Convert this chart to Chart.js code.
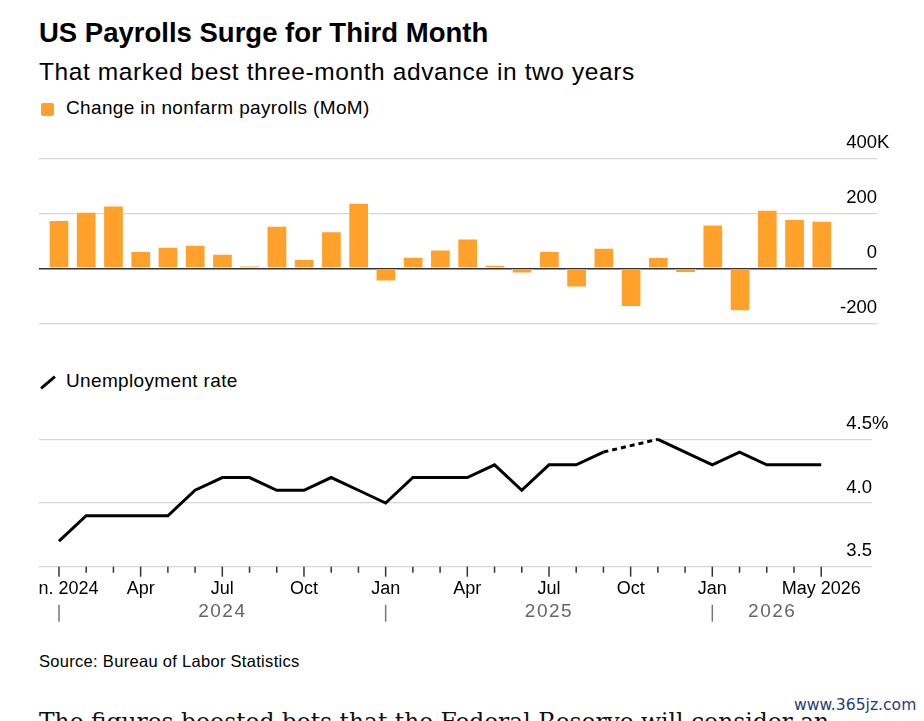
<!DOCTYPE html>
<html>
<head>
<meta charset="utf-8">
<script src="https://cdn.jsdelivr.net/npm/chart.js@4.4.1/dist/chart.umd.min.js"></script>
<style>
html,body{margin:0;padding:0;background:#fff;}
body{width:924px;height:721px;overflow:hidden;position:relative;font-family:"Liberation Sans",Arial,sans-serif;color:#000;}
.abs{position:absolute;white-space:nowrap;line-height:1;}
#title{left:39px;top:19.4px;font-size:27.5px;font-weight:700;}
#subtitle{left:39px;top:59.5px;font-size:24.5px;letter-spacing:0.6px;}
#sq{position:absolute;left:41px;top:103px;width:13px;height:13px;border-radius:2px;background:#ffa12b;}
#leg1{left:66px;top:98.2px;font-size:19px;letter-spacing:0.35px;}
#slash{position:absolute;left:39px;top:381px;width:18px;height:3px;background:#000;transform:rotate(-40deg);}
#leg2{left:66px;top:370.5px;font-size:19px;letter-spacing:0.35px;}
#c1{position:absolute;left:39px;top:125px;}
#c2{position:absolute;left:39px;top:400px;}
#source{left:39px;top:652.8px;font-size:16.5px;letter-spacing:0.3px;}
#article{left:39px;top:711px;font-size:23.4px;font-family:"DejaVu Serif","Liberation Serif",serif;color:#111;}
#wm{left:794px;top:697.5px;font-size:15.6px;font-family:"DejaVu Sans",sans-serif;color:#1f3d7a;}
</style>
</head>
<body>
<div class="abs" id="title">US Payrolls Surge for Third Month</div>
<div class="abs" id="subtitle">That marked best three-month advance in two years</div>
<div id="sq"></div>
<div class="abs" id="leg1">Change in nonfarm payrolls (MoM)</div>
<canvas id="c1" width="885" height="210"></canvas>
<div id="slash"></div>
<div class="abs" id="leg2">Unemployment rate</div>
<canvas id="c2" width="885" height="240"></canvas>
<div class="abs" id="source">Source: Bureau of Labor Statistics</div>
<div class="abs" id="article">The figures boosted bets that the Federal Reserve will consider an</div>
<div class="abs" id="wm">www.365jz.com</div>
<script>
// ---- data ----
const months = ['Jan 2024','Feb 2024','Mar 2024','Apr 2024','May 2024','Jun 2024','Jul 2024','Aug 2024','Sep 2024','Oct 2024','Nov 2024','Dec 2024',
                'Jan 2025','Feb 2025','Mar 2025','Apr 2025','May 2025','Jun 2025','Jul 2025','Aug 2025','Sep 2025','Oct 2025','Nov 2025','Dec 2025',
                'Jan 2026','Feb 2026','Mar 2026','Apr 2026','May 2026'];
const tickLabels = ['Jan. 2024','','','Apr','','','Jul','','','Oct','','',
                    'Jan','','','Apr','','','Jul','','','Oct','','',
                    'Jan','','','','May 2026'];
const payrolls = [176, 206, 228, 63, 78, 86, 53, 10, 155, 34, 135, 238,
                  -48, 42, 68, 108, 13, -19, 63, -70, 75, -141, 41, -17,
                  159, -156, 213, 179, 173];
const unemployment = [3.7, 3.9, 3.9, 3.9, 3.9, 4.1, 4.2, 4.2, 4.1, 4.1, 4.2, 4.1,
                      4.0, 4.2, 4.2, 4.2, 4.3, 4.1, 4.3, 4.3, 4.4, null, 4.5, 4.4,
                      4.3, 4.4, 4.3, 4.3, 4.3];
const payrollTicks = [-200, 0, 200, 400];
const rateTicks = [3.5, 4.0, 4.5];
const yearLabels = ['2024', '2025', '2026'];

// ---- setup ----
const FONT = '"Liberation Sans", Arial, sans-serif';
Chart.defaults.font.family = FONT;
Chart.defaults.color = '#000';

function makeRightLabels(ticks, decimals, suffix, lift) {
  return {
    id: 'rightLabels',
    afterDraw(chart) {
      const ys = chart.scales.y, ctx = chart.ctx, x = chart.chartArea.right;
      ctx.save();
      ctx.font = '18.5px ' + FONT;
      ctx.fillStyle = '#000';
      ctx.textBaseline = 'middle';
      ticks.forEach((v, i) => {
        const y = ys.getPixelForValue(v) - lift;
        ctx.textAlign = 'right';
        ctx.fillText(decimals ? v.toFixed(decimals) : String(v), x, y);
        if (i === ticks.length - 1 && suffix) {
          ctx.textAlign = 'left';
          ctx.fillText(suffix, x, y);
        }
      });
      ctx.restore();
    }
  };
}

function makeTimeAxis(yearCenters) {
  return {
    id: 'timeAxis',
    afterDraw(chart) {
      const xs = chart.scales.x, ctx = chart.ctx, b = chart.chartArea.bottom;
      ctx.save();
      ctx.strokeStyle = '#333';
      ctx.lineWidth = 1.5;
      months.forEach((m, i) => {
        const x = xs.getPixelForValue(i);
        const len = tickLabels[i] ? 10 : 6;
        ctx.beginPath(); ctx.moveTo(x, b); ctx.lineTo(x, b + len); ctx.stroke();
      });
      ctx.strokeStyle = '#777';
      months.forEach((m, i) => {
        if (m.startsWith('Jan')) {
          const x = xs.getPixelForValue(i);
          ctx.beginPath(); ctx.moveTo(x, b + 38); ctx.lineTo(x, b + 55); ctx.stroke();
        }
      });
      ctx.fillStyle = '#666';
      ctx.font = '19px ' + FONT;
      ctx.letterSpacing = '1.5px';
      ctx.textAlign = 'center';
      ctx.textBaseline = 'middle';
      yearLabels.forEach((yl, k) => ctx.fillText(yl, xs.getPixelForValue(yearCenters[k]), b + 45));
      ctx.restore();
    }
  };
}

const X_MIN = -0.734;

// ---- payrolls bar chart ----
new Chart(document.getElementById('c1'), {
  type: 'bar',
  data: {
    datasets: [{
      data: payrolls.map((v, i) => ({ x: i, y: v })),
      backgroundColor: '#ffa12b',
      borderColor: 'rgba(255,255,255,0.5)',
      borderWidth: 1,
      barPercentage: 0.76,
      categoryPercentage: 1
    }]
  },
  options: {
    responsive: false,
    animation: false,
    events: [],
    layout: { padding: { left: 0, right: 47, top: 33.3, bottom: 11.7 } },
    plugins: { legend: { display: false }, tooltip: { enabled: false } },
    scales: {
      x: { type: 'linear', display: false, min: X_MIN, max: 30.027, offset: false },
      y: {
        min: -200, max: 400,
        afterBuildTicks: s => { s.ticks = payrollTicks.map(v => ({ value: v })); },
        afterFit: s => { s.width = 0; },
        ticks: { display: false },
        border: { display: false },
        grid: {
          drawTicks: false,
          color: c => c.tick && c.tick.value === 0 ? '#333' : '#d6d6d6',
          lineWidth: c => c.tick && c.tick.value === 0 ? 1.6 : 1.3
        }
      }
    }
  },
  plugins: [makeRightLabels(payrollTicks, 0, 'K', 15.5)]
});

// ---- unemployment line chart ----
new Chart(document.getElementById('c2'), {
  type: 'line',
  data: {
    datasets: [{
      data: unemployment.map((v, i) => ({ x: i, y: v })),
      borderColor: '#000',
      borderWidth: 3,
      pointRadius: 0,
      tension: 0,
      spanGaps: true,
      clip: false,
      borderJoinStyle: 'miter',
      segment: {
        borderDash: c => (c.p0.skip || c.p1.skip) ? [5, 4] : undefined
      }
    }]
  },
  options: {
    responsive: false,
    animation: false,
    events: [],
    layout: { padding: { left: 0, right: 52, top: 39.3, bottom: 0 } },
    plugins: { legend: { display: false }, tooltip: { enabled: false } },
    scales: {
      x: {
        type: 'linear', min: X_MIN, max: 29.866, offset: false,
        afterBuildTicks: s => { s.ticks = months.map((m, i) => ({ value: i })); },
        afterFit: s => { s.height = 73.3; s.paddingLeft = 0; s.paddingRight = 0; },
        ticks: {
          autoSkip: false, maxRotation: 0, minRotation: 0, padding: 11.5,
          font: { size: 18 }, color: '#000',
          callback: v => tickLabels[v] || ''
        },
        grid: { display: false, drawTicks: false },
        border: { display: false }
      },
      y: {
        min: 3.5, max: 4.5,
        afterBuildTicks: s => { s.ticks = rateTicks.map(v => ({ value: v })); },
        afterFit: s => { s.width = 0; },
        ticks: { display: false },
        border: { display: false },
        grid: { drawTicks: false, color: '#d6d6d6', lineWidth: 1.3 }
      }
    }
  },
  plugins: [makeRightLabels(rateTicks, 1, '%', 15.5), makeTimeAxis([6, 18, 26.2])]
});
</script>
</body>
</html>
